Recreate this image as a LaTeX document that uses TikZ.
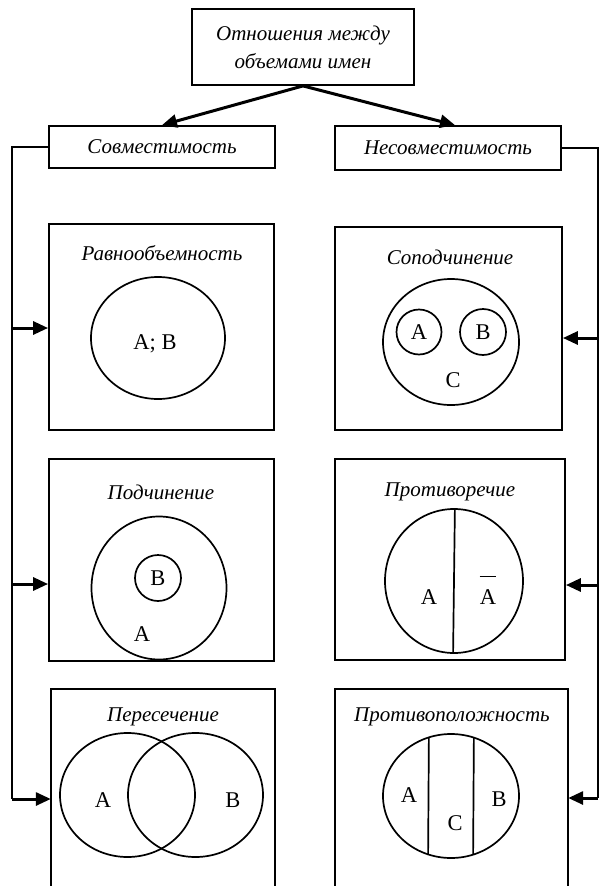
\documentclass[tikz,border=0pt]{standalone}
\usepackage{fontspec}
\setmainfont{Liberation Serif}
\usetikzlibrary{arrows.meta}
\begin{document}
\begin{tikzpicture}[x=1pt,y=-1pt,
  box/.style={draw, line width=1.8pt, inner sep=0pt},
  ttl/.style={font=\itshape\fontsize{21}{24}\selectfont, inner sep=0pt},
  lbl/.style={font=\fontsize{22.5}{24}\selectfont, inner sep=0pt},
  arr/.style={line width=3pt, -{Triangle[length=15pt,width=13pt]}},
  bus/.style={line width=2pt},
  circ/.style={line width=1.7pt},
  ring/.style={draw, circle, line width=1.7pt, inner sep=0pt, font=\fontsize{22.5}{24}\selectfont}]
\useasboundingbox (0,0) rectangle (602,886);

% header boxes
\node[box, minimum width=222pt, minimum height=76pt, align=center,
      font=\itshape\fontsize{21}{28}\selectfont] (top) at (303,47) {Отношения между\\объемами имен};
\node[box, minimum width=226pt, minimum height=42pt, font=\itshape\fontsize{21}{24}\selectfont] (comp) at (162,147) {Совместимость};
\node[box, minimum width=226pt, minimum height=44pt, font=\itshape\fontsize{21}{24}\selectfont] (incomp) at (448,148) {Несовместимость};

\draw[arr] (top.south) -- (comp.north);
\draw[arr] (top.south) -- ([xshift=7pt]incomp.north);

% frames
\node[box, minimum width=225pt, minimum height=206pt] (eq) at (161.5,327) {};
\node[box, minimum width=227pt, minimum height=203pt] (coord) at (448.5,328.5) {};
\node[box, minimum width=225pt, minimum height=202pt] (sub) at (161.5,560) {};
\node[box, minimum width=230pt, minimum height=201pt] (contr) at (450,559.5) {};
\node[inner sep=0pt, minimum width=224pt, minimum height=197pt] (inter) at (163,787.5) {};
\node[inner sep=0pt, minimum width=233pt, minimum height=197pt] (opp) at (451.5,787.5) {};
\draw[line width=1.8pt] (inter.south west) -- (inter.north west) -- (inter.north east) -- (inter.south east);
\draw[line width=1.8pt] (opp.south west) -- (opp.north west) -- (opp.north east) -- (opp.south east);

% titles
\node[ttl] (eqT) at (162,253) {Равнообъемность};
\node[ttl] (coordT) at (450,257) {Соподчинение};
\node[ttl] (subT) at (161,492) {Подчинение};
\node[ttl] (contrT) at (450,492) {Противоречие};
\node[ttl] (interT) at (163,717) {Пересечение};
\node[ttl] (oppT) at (452,717) {Противоположность};

% left bus
\coordinate (Ltop) at (12,147);
\coordinate (L1) at (12,328);
\coordinate (L2) at (12,584);
\coordinate (Lbot) at (12,799);
\draw[bus] (comp.west) -- (Ltop) -- (Lbot);
\draw[arr] (L1) -- (eq.west |- L1);
\draw[arr] (L2) -- (sub.west |- L2);
\draw[arr] (Lbot) -- (inter.west |- Lbot);

% right bus
\coordinate (Rtop) at (598,148);
\coordinate (R1) at (598,338);
\coordinate (R2) at (598,585);
\coordinate (Rbot) at (598,798);
\draw[bus] (incomp.east) -- (Rtop) -- (Rbot);
\draw[arr] (R1) -- (coord.east |- R1);
\draw[arr] (R2) -- (contr.east |- R2);
\draw[arr] (Rbot) -- (opp.east |- Rbot);

% Равнообъемность
\draw[circ] (158,338) ellipse [x radius=67pt, y radius=61pt];
\node[lbl] (eqAB) at (155,344) {A; B};

% Соподчинение
\draw[circ] (451,342) ellipse [x radius=68pt, y radius=63pt];
\node[ring, minimum size=45pt] (cA) at (419,332) {A};
\node[ring, minimum size=46pt] (cB) at (483,332) {B};
\node[lbl] (cC) at (453,380) {C};

% Подчинение
\draw[circ] (159,588) ellipse [x radius=67.5pt, y radius=71.5pt];
\node[ring, minimum size=46pt] (sB) at (158,578) {B};
\node[lbl] (sA) at (142,634) {A};

% Противоречие
\draw[circ] (454,581) ellipse [x radius=69pt, y radius=72pt];
\begin{scope}
  \clip (454,581) ellipse [x radius=69pt, y radius=72pt];
  \draw[circ] (455,500) -- (453,660);
\end{scope}
\node[lbl] (kA) at (429,597) {A};
\node[lbl] (kAbar) at (488,597) {A};
\draw[line width=1.3pt] ([yshift=13pt]kAbar.north west) -- ([yshift=13pt]kAbar.north east);

% Пересечение
\draw[circ] (127.5,795) ellipse [x radius=67.5pt, y radius=62pt];
\draw[circ] (195.5,795) ellipse [x radius=67.5pt, y radius=62pt];
\node[lbl] (iA) at (103,800) {A};
\node[lbl] (iB) at (233,800) {B};

% Противоположность
\draw[circ] (451,796) ellipse [x radius=68pt, y radius=62pt];
\begin{scope}
  \clip (451,796) ellipse [x radius=68pt, y radius=62pt];
  \draw[circ] (429,720) -- (428,870);
  \draw[circ] (474,720) -- (473,870);
\end{scope}
\node[lbl] (oA) at (409,795) {A};
\node[lbl] (oC) at (455,823) {C};
\node[lbl] (oB) at (499,799) {B};
\end{tikzpicture}
\end{document}
